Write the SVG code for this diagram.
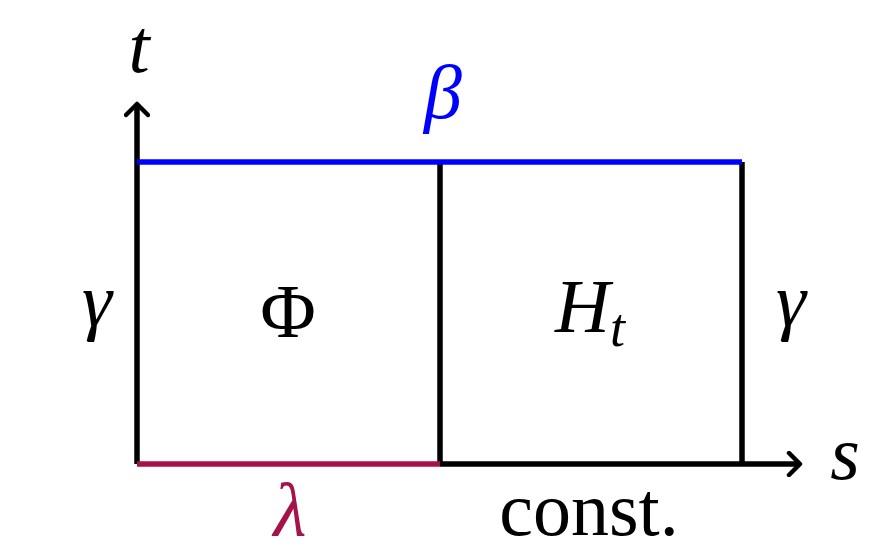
<svg xmlns="http://www.w3.org/2000/svg" width="873" height="555" viewBox="0 0 873 555">
<style>
.ln{stroke:#000;stroke-width:5.5;fill:none}
.lbl{font-family:"Liberation Serif","DejaVu Serif",serif;font-size:76px;fill:#000}
.it{font-style:italic}
</style>
<defs>
<marker id="arr" markerWidth="26" markerHeight="26" refX="20" refY="13" orient="auto" markerUnits="userSpaceOnUse" viewBox="0 0 26 26">
<path d="M9,2 L20,13 L9,24" fill="none" stroke="#000" stroke-width="4.5" stroke-linecap="round" stroke-linejoin="round"/>
</marker>
</defs>
<g id="connectors">
<line class="ln" x1="137" y1="464" x2="137" y2="104" marker-end="url(#arr)"/>
<line class="ln" x1="440" y1="464" x2="800" y2="464" marker-end="url(#arr)"/>
<line class="ln" x1="440" y1="162" x2="440" y2="464"/>
<line class="ln" x1="742" y1="162" x2="742" y2="464"/>
<line x1="137" y1="162" x2="742" y2="162" stroke="#0000FF" stroke-width="5.5"/>
<line x1="137" y1="464" x2="440" y2="464" stroke="#A6124A" stroke-width="5.5"/>
</g>
<g id="label-t"><text class="lbl it" x="139" y="72" text-anchor="middle">t</text></g>
<g id="label-beta"><text class="lbl it" x="443" y="118" text-anchor="middle" style="fill:#0000FF">β</text></g>
<g id="label-gamma-left"><text class="lbl it" x="97" y="326" text-anchor="middle">γ</text></g>
<g id="label-gamma-right"><text class="lbl it" x="791" y="326" text-anchor="middle">γ</text></g>
<g id="label-phi"><text class="lbl" x="288" y="337" text-anchor="middle">Φ</text></g>
<g id="label-Ht"><text class="lbl it" x="555" y="332">H<tspan font-size="54" dy="14">t</tspan></text></g>
<g id="label-s"><text class="lbl it" x="845" y="479" text-anchor="middle">s</text></g>
<g id="label-lambda"><text class="lbl it" x="290" y="536" text-anchor="middle" style="fill:#A6124A">λ</text></g>
<g id="label-const"><text class="lbl" x="589" y="535" text-anchor="middle">const.</text></g>
</svg>
